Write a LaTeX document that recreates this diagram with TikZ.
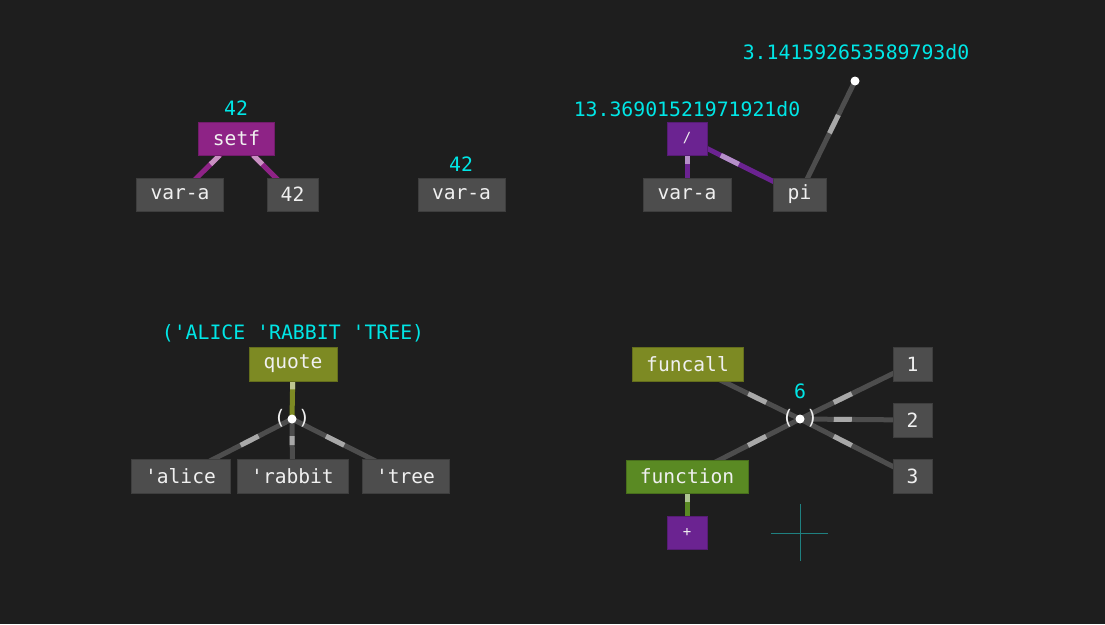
\documentclass[tikz,border=0pt]{standalone}
\usepackage{fontspec}
\setmonofont{DejaVu Sans Mono}
\usetikzlibrary{calc}
\definecolor{bgc}{HTML}{1E1E1E}
\definecolor{boxgrey}{HTML}{4D4D4D}
\definecolor{edgegrey}{HTML}{4D4D4D}
\definecolor{lightgrey}{HTML}{A8A8A8}
\definecolor{setfpurple}{HTML}{8E2386}
\definecolor{setflight}{HTML}{C990C2}
\definecolor{divpurple}{HTML}{6B2391}
\definecolor{divlight}{HTML}{B58FC9}
\definecolor{olive}{HTML}{7D8A23}
\definecolor{olivelight}{HTML}{BEC591}
\definecolor{fgreen}{HTML}{5A8A23}
\definecolor{fgreenlight}{HTML}{ADC591}
\definecolor{valcyan}{HTML}{00E6E6}
\definecolor{txt}{HTML}{F0F0F0}
\definecolor{cross}{HTML}{1F8080}
\pgfdeclarelayer{bg}
\pgfdeclarelayer{edges}
\pgfsetlayers{bg,edges,main}
\newcommand\edge[4]{%
  \begin{pgfonlayer}{edges}
  \draw[line width=5pt,#3] (#1.center) -- (#2.center);
  \draw[line width=5pt,#4] ($(#1.center)!0.3!(#2.center)$) -- ($(#1.center)!0.46!(#2.center)$);
  \end{pgfonlayer}}
\tikzset{
  x=1pt, y=-1pt,
  box/.style={rectangle, inner sep=0pt, fill=#1, draw=#1!80!black, line width=0.8pt,
    text=txt, font=\ttfamily\fontsize{19.6}{22}\selectfont, minimum height=33pt},
  box/.default=boxgrey,
  smallbox/.style={box=#1, font=\ttfamily\fontsize{14}{16}\selectfont},
  val/.style={text=valcyan, font=\ttfamily\fontsize{19.8}{22}\selectfont, inner sep=0pt},
  dot/.style={circle, fill=white, inner sep=0pt, minimum size=9pt},
  paren/.style={text=txt, font=\ttfamily\fontsize{20}{22}\selectfont, inner sep=0pt},
}
\begin{document}
\begin{tikzpicture}
\useasboundingbox (0,0) rectangle (1105,624);
\begin{pgfonlayer}{bg}
\fill[bgc] (0,0) rectangle (1105,624);
\end{pgfonlayer}

% panel 1
\node[val] (v42a) at (236,108) {42};
\node[box=setfpurple, minimum width=76pt] (setf) at (236.5,138.5) {setf};
\node[box, minimum width=87pt] (vara1) at (180,194.5) {var-a};
\node[box, minimum width=51pt] (n42) at (292.5,194.5) {42};
\edge{setf}{vara1}{setfpurple}{setflight}
\edge{setf}{n42}{setfpurple}{setflight}

% panel 2
\node[val] (v42b) at (461,164) {42};
\node[box, minimum width=87pt] (vara2) at (461.5,194.5) {var-a};

% panel 3
\node[val] (vdiv) at (687,109) {13.36901521971921d0};
\node[val] (vpi) at (856,52) {3.141592653589793d0};
\node[dot] (pidot) at (855,81) {};
\node[smallbox=divpurple, minimum width=40pt] (div) at (687,138.5) {/};
\node[box, minimum width=88pt] (vara3) at (687,194.5) {var-a};
\node[box, minimum width=53pt] (pi) at (799.5,194.5) {pi};
\edge{div}{vara3}{divpurple}{divlight}
\edge{div}{pi}{divpurple}{divlight}
\edge{pidot}{pi}{edgegrey}{lightgrey}

% panel 4
\node[val] (vquote) at (293,333) {('ALICE 'RABBIT 'TREE)};
\node[box=olive, minimum width=88pt, minimum height=34pt] (quote) at (293,364) {quote};
\node[paren] (qparen) at (292,418) {(\ )};
\node[dot] (qdot) at (292,419) {};
\node[box, minimum width=99pt, minimum height=34pt] (alice) at (180.5,476) {'alice};
\node[box, minimum width=111pt, minimum height=34pt] (rabbit) at (292.5,476) {'rabbit};
\node[box, minimum width=87pt, minimum height=34pt] (tree) at (405.5,476) {'tree};
\edge{quote}{qdot}{olive}{olivelight}
\edge{qdot}{alice}{edgegrey}{lightgrey}
\edge{qdot}{rabbit}{edgegrey}{lightgrey}
\edge{qdot}{tree}{edgegrey}{lightgrey}

% panel 5
\node[val] (v6) at (800,391) {6};
\node[paren] (fparen) at (800,418) {(\ )};
\node[dot] (fdot) at (800,419) {};
\node[box=olive, minimum width=111pt, minimum height=34pt] (funcall) at (687.5,364) {funcall};
\node[box, minimum width=39pt, minimum height=34pt] (one) at (912.5,364) {1};
\node[box, minimum width=39pt, minimum height=34pt] (two) at (912.5,420) {2};
\node[box, minimum width=39pt, minimum height=34pt] (three) at (912.5,476.5) {3};
\node[box=fgreen, minimum width=122pt] (function) at (687,476.5) {function};
\node[smallbox=divpurple, minimum width=40pt] (plus) at (687,532.5) {+};
\edge{fdot}{funcall}{edgegrey}{lightgrey}
\edge{fdot}{function}{edgegrey}{lightgrey}
\edge{fdot}{one}{edgegrey}{lightgrey}
\edge{fdot}{two}{edgegrey}{lightgrey}
\edge{fdot}{three}{edgegrey}{lightgrey}
\edge{function}{plus}{fgreen}{fgreenlight}

% crosshair
\coordinate (ct) at (800,504);
\coordinate (cb) at (800,561);
\coordinate (cl) at (771,533);
\coordinate (cr) at (828,533);
\draw[cross, line width=1pt] (ct) -- (cb);
\draw[cross, line width=1pt] (cl) -- (cr);
\end{tikzpicture}
\end{document}
